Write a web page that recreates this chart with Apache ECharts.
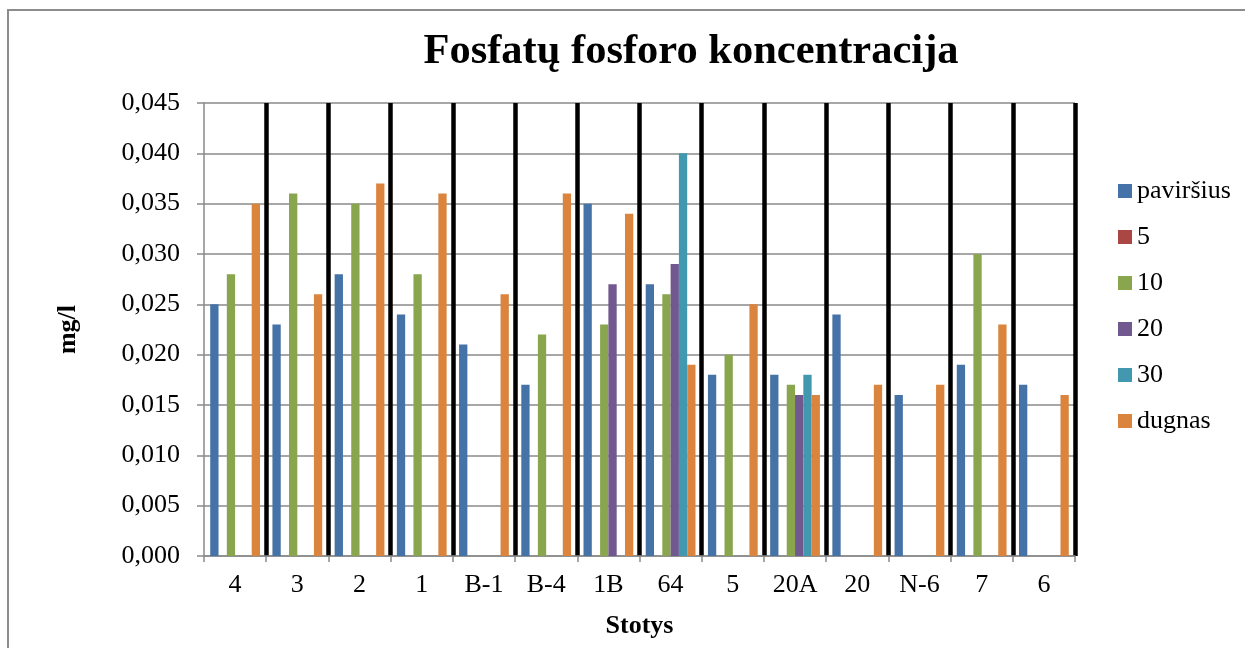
<!DOCTYPE html>
<html>
<head>
<meta charset="utf-8">
<script src="https://cdn.jsdelivr.net/npm/echarts@6/dist/echarts.min.js"></script>
<style>
  html, body { margin: 0; padding: 0; background: #fff; }
  #chart { width: 1245px; height: 648px; }
</style>
</head>
<body>
<div id="chart"></div>
<script>
// Stations along the x axis
const stations = ['4', '3', '2', '1', 'B-1', 'B-4', '1B', '64', '5', '20A', '20', 'N-6', '7', '6'];

// Phosphate phosphorus (mg/l) by sampling depth
const pavirsius = [0.025, 0.023, 0.028, 0.024, 0.021, 0.017, 0.035, 0.027, 0.018, 0.018, 0.024, 0.016, 0.019, 0.017];
const depth5    = [null, null, null, null, null, null, null, null, null, null, null, null, null, null];
const depth10   = [0.028, 0.036, 0.035, 0.028, null, 0.022, 0.023, 0.026, 0.020, 0.017, null, null, 0.030, null];
const depth20   = [null, null, null, null, null, null, 0.027, 0.029, null, 0.016, null, null, null, null];
const depth30   = [null, null, null, null, null, null, null, 0.040, null, 0.018, null, null, null, null];
const dugnas    = [0.035, 0.026, 0.037, 0.036, 0.026, 0.036, 0.034, 0.019, 0.025, 0.016, 0.017, 0.017, 0.023, 0.016];

const seriesNames = ['paviršius', '5', '10', '20', '30', 'dugnas'];
const seriesData = [pavirsius, depth5, depth10, depth20, depth30, dugnas];
const seriesColors = ['#4572A7', '#AA4643', '#89A54E', '#71588F', '#4198AF', '#DB843D'];

// Y axis scale
const yMin = 0, yMax = 0.045, yStep = 0.005;

const FONT = '"Liberation Serif", "Times New Roman", serif';
const GRID = '#8a8a8a';

const chart = echarts.init(document.getElementById('chart'), null, { renderer: 'canvas' });

chart.setOption({
  backgroundColor: '#ffffff',
  animation: false,
  textStyle: { fontFamily: FONT, color: '#000' },
  graphic: [{
    type: 'rect',
    shape: { x: 8, y: 10, width: 1400, height: 800 },
    style: { fill: 'none', stroke: '#8c8c8c', lineWidth: 2 },
    silent: true,
    z: -10
  }],
  title: {
    text: 'Fosfatų fosforo koncentracija',
    left: 686,
    top: 26,
    textAlign: 'center',
    textStyle: { fontFamily: FONT, fontSize: 42.5, fontWeight: 'bold', color: '#000' }
  },
  legend: {
    orient: 'vertical',
    left: 1118,
    top: 178,
    padding: 0,
    itemWidth: 14,
    itemHeight: 14,
    itemGap: 20,
    icon: 'rect',
    data: seriesNames,
    textStyle: { fontFamily: FONT, fontSize: 26, color: '#000', lineHeight: 26, padding: [0, 0, 0, 0] }
  },
  grid: { left: 204, right: 170, top: 103, bottom: 92, containLabel: false },
  xAxis: {
    type: 'category',
    data: stations,
    name: 'Stotys',
    nameLocation: 'middle',
    nameGap: 57,
    nameTextStyle: { fontFamily: FONT, fontSize: 26, fontWeight: 'bold', color: '#000' },
    axisLine: { show: true, lineStyle: { color: GRID, width: 1.5 } },
    axisTick: { show: true, interval: 0, length: 6, lineStyle: { color: GRID, width: 1.5 } },
    axisLabel: { interval: 0, margin: 16, fontFamily: FONT, fontSize: 26, color: '#000' },
    splitLine: {
      show: true,
      interval: 0,
      showMinLine: false,
      showMaxLine: true,
      lineStyle: { color: '#000', width: 4.5 }
    }
  },
  yAxis: {
    type: 'value',
    min: yMin,
    max: yMax,
    interval: yStep,
    name: 'mg/l',
    nameLocation: 'middle',
    nameGap: 123,
    nameTextStyle: { fontFamily: FONT, fontSize: 26, fontWeight: 'bold', color: '#000' },
    axisLine: { show: true, lineStyle: { color: GRID, width: 1.5 } },
    axisTick: { show: true, length: 7, lineStyle: { color: GRID, width: 1.5 } },
    axisLabel: {
      margin: 24,
      fontFamily: FONT,
      fontSize: 26,
      color: '#000',
      formatter: v => v.toFixed(3).replace('.', ',')
    },
    splitLine: { show: true, lineStyle: { color: GRID, width: 1.5 } }
  },
  series: seriesNames.map((name, i) => ({
    name: name,
    type: 'bar',
    data: seriesData[i],
    barGap: '0%',
    barCategoryGap: '20%',
    itemStyle: { color: seriesColors[i] },
    z: 3
  }))
});
</script>
</body>
</html>
